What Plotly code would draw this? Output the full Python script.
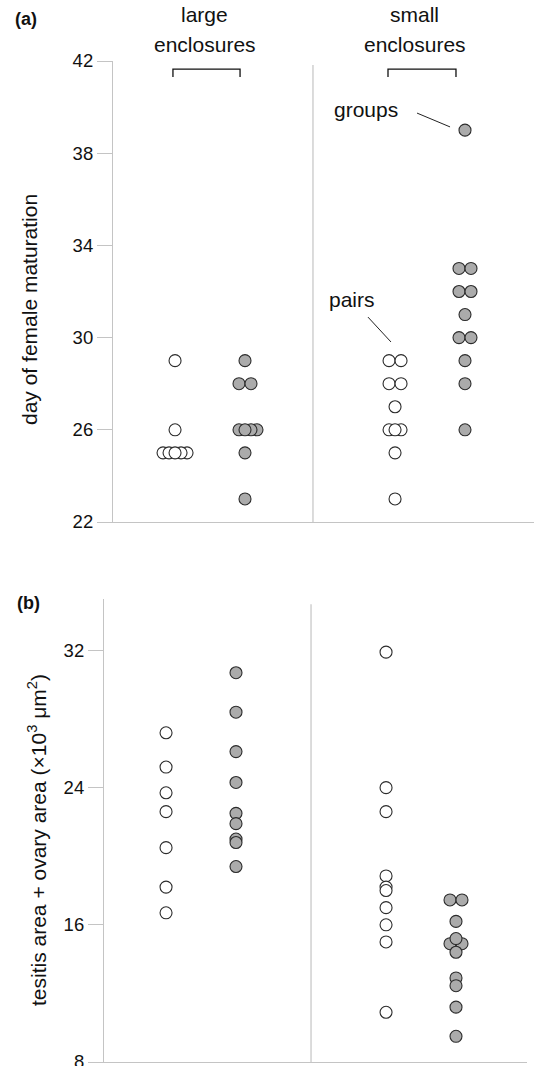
import plotly.graph_objects as go

# ---------------- data ----------------
columns = ["large pairs", "large groups", "small pairs", "small groups"]

# (a) day of female maturation
mat_large_pairs = [29, 26, 25, 25, 25, 25, 25]
mat_large_groups = [29, 28, 28, 26, 26, 26, 26, 25, 23]
mat_small_pairs = [29, 29, 28, 28, 27, 26, 26, 26, 25, 23]
mat_small_groups = [39, 33, 33, 32, 32, 31, 30, 30, 29, 28, 26]

# (b) testis area + ovary area (x10^3 um^2)
area_large_pairs = [27.2, 25.2, 23.7, 22.6, 20.5, 18.2, 16.7]
area_large_groups = [30.7, 28.4, 26.1, 24.3, 22.5, 21.9, 21.0, 20.8, 19.4]
area_small_pairs = [31.9, 24.0, 22.6, 18.85, 18.2, 18.0, 17.0, 16.0, 15.0, 10.9]
area_small_groups = [17.45, 17.45, 16.2, 15.2, 14.9, 14.9, 14.4, 12.9, 12.45, 11.2, 9.5]

ticks_a = [22, 26, 30, 34, 38, 42]
ticks_b = [8, 16, 24, 32]

# ---------------- layout parameters ----------------
W, H = 534, 1066
UNIT = 110.0          # px per x unit
X0 = 0.118            # x value at the y axis
enclosure_pos = {"large": 1.0, "small": 3.0}
col_shift = 0.318     # pairs left, groups right
half_d = 6.0 / UNIT   # half marker diameter in x units

FILL = {"pairs": "white", "groups": "#ababab"}
EDGE = "#2b2b2b"
AXIS = "#c4c4c4"
FONT = "Liberation Sans, Arial, sans-serif"
TXT = 21
TICK = 18.5


def dodge(values):
    """Return offsets (in half-diameters) for identical values."""
    counts = {}
    for v in values:
        counts[v] = counts.get(v, 0) + 1
    seen = {}
    offs = []
    for v in values:
        n = counts[v]
        k = seen.get(v, 0)
        seen[v] = k + 1
        if n == 1:
            offs.append(0)
        elif n == 2:
            offs.append(-1 if k == 0 else 1)
        else:
            start = -((n - 1) // 2)
            offs.append(start + k)
    return offs


def col_x(name):
    enc, kind = name.split()
    return enclosure_pos[enc] + (-col_shift if kind == "pairs" else col_shift), kind


def add_column(fig, name, values, row):
    cx, kind = col_x(name)
    offs = dodge(values)
    pts = sorted(zip(values, offs), key=lambda t: -abs(t[1] - 0.01))
    xs = [cx + o * half_d for _, o in pts]
    ys = [v for v, _ in pts]
    fig.add_trace(go.Scatter(
        x=xs, y=ys, mode="markers", cliponaxis=False, showlegend=False,
        marker=dict(size=12, color=FILL[kind], line=dict(color=EDGE, width=1.1)),
        xaxis="x" if row == 1 else "x2", yaxis="y" if row == 1 else "y2",
        hoverinfo="y"))


fig = go.Figure()
for name, vals in zip(columns, [mat_large_pairs, mat_large_groups, mat_small_pairs, mat_small_groups]):
    add_column(fig, name, vals, 1)
for name, vals in zip(columns, [area_large_pairs, area_large_groups, area_small_pairs, area_small_groups]):
    add_column(fig, name, vals, 2)


def py(p):
    return 1 - p / H

axis_common = dict(showline=True, linecolor=AXIS, linewidth=1.2, showgrid=False,
                   zeroline=False, automargin=False)

fig.update_layout(
    width=W, height=H, margin=dict(l=0, r=0, t=0, b=0),
    paper_bgcolor="white", plot_bgcolor="white",
    font=dict(family=FONT, size=TXT, color="#111"),
    xaxis=dict(domain=[113 / W, 1.0], range=[X0, X0 + 421 / UNIT], anchor="y",
               showticklabels=False, ticks="", **axis_common),
    yaxis=dict(domain=[py(522), py(61)], range=[22, 42], anchor="x",
               tickvals=ticks_a, ticks="outside", ticklen=15, tickcolor=AXIS,
               tickwidth=1.2, tickfont=dict(size=TICK), ticklabeloverflow="allow",
               **axis_common),
    xaxis2=dict(domain=[104 / W, 527 / W], range=[X0, X0 + 423 / UNIT], anchor="y2",
                showticklabels=False, ticks="", **axis_common),
    yaxis2=dict(domain=[py(1062), py(599)], range=[8, 35], anchor="x2",
                tickvals=ticks_b, ticks="outside", ticklen=15, tickcolor=AXIS,
                tickwidth=1.2, tickfont=dict(size=TICK), ticklabeloverflow="allow",
                **axis_common),
)

shapes = []
# dividers between enclosure types
shapes.append(dict(type="line", xref="x", yref="y", x0=1.936, x1=1.936, y0=41.83, y1=22,
                   line=dict(color=AXIS, width=1.2)))
shapes.append(dict(type="line", xref="x2", yref="y2", x0=2.0, x1=2.0, y0=34.7, y1=8,
                   line=dict(color=AXIS, width=1.2)))
# brackets
for xa, xb in [(0.663, 1.273), (2.618, 3.236)]:
    shapes.append(dict(type="path", xref="x", yref="y",
                       path=f"M {xa},41.31 L {xa},41.65 L {xb},41.65 L {xb},41.31",
                       line=dict(color="#111", width=1.3)))
# leader lines
shapes.append(dict(type="line", xref="x", yref="y", x0=2.882, y0=39.74, x1=3.182, y1=39.14,
                   line=dict(color="#222", width=1)))
shapes.append(dict(type="line", xref="x", yref="y", x0=2.436, y0=30.89, x1=2.645, y1=29.81,
                   line=dict(color="#222", width=1)))
fig.update_layout(shapes=shapes)

ann = []
def text(x, y, s, xref="paper", size=TXT, bold=False, angle=0):
    ann.append(dict(x=x, y=y, xref=xref, yref="paper", text=f"<b>{s}</b>" if bold else s,
                    showarrow=False, textangle=angle, xanchor="center", yanchor="middle",
                    font=dict(size=size, family=FONT, color="#111")))

text(26 / W, py(19), "(a)", bold=True, size=18)
text(28 / W, py(603), "(b)", bold=True, size=18)
text(0.95, py(15), "large", xref="x")
text(0.95, py(45), "enclosures", xref="x")
text(2.863, py(15), "small", xref="x")
text(2.863, py(45), "enclosures", xref="x")
text(366 / W, py(109), "groups")
text(352 / W, py(300), "pairs")
text(29 / W, py(310), "day of female maturation", angle=-90)
text(37 / W, py(840), "tesitis area + ovary area (×10<sup>3</sup> μm<sup>2</sup>)", angle=-90)
fig.update_layout(annotations=ann)

fig.write_html("out.html", config={"displayModeBar": False},
               post_script="document.body.style.margin='0';document.body.style.overflow='hidden';")
